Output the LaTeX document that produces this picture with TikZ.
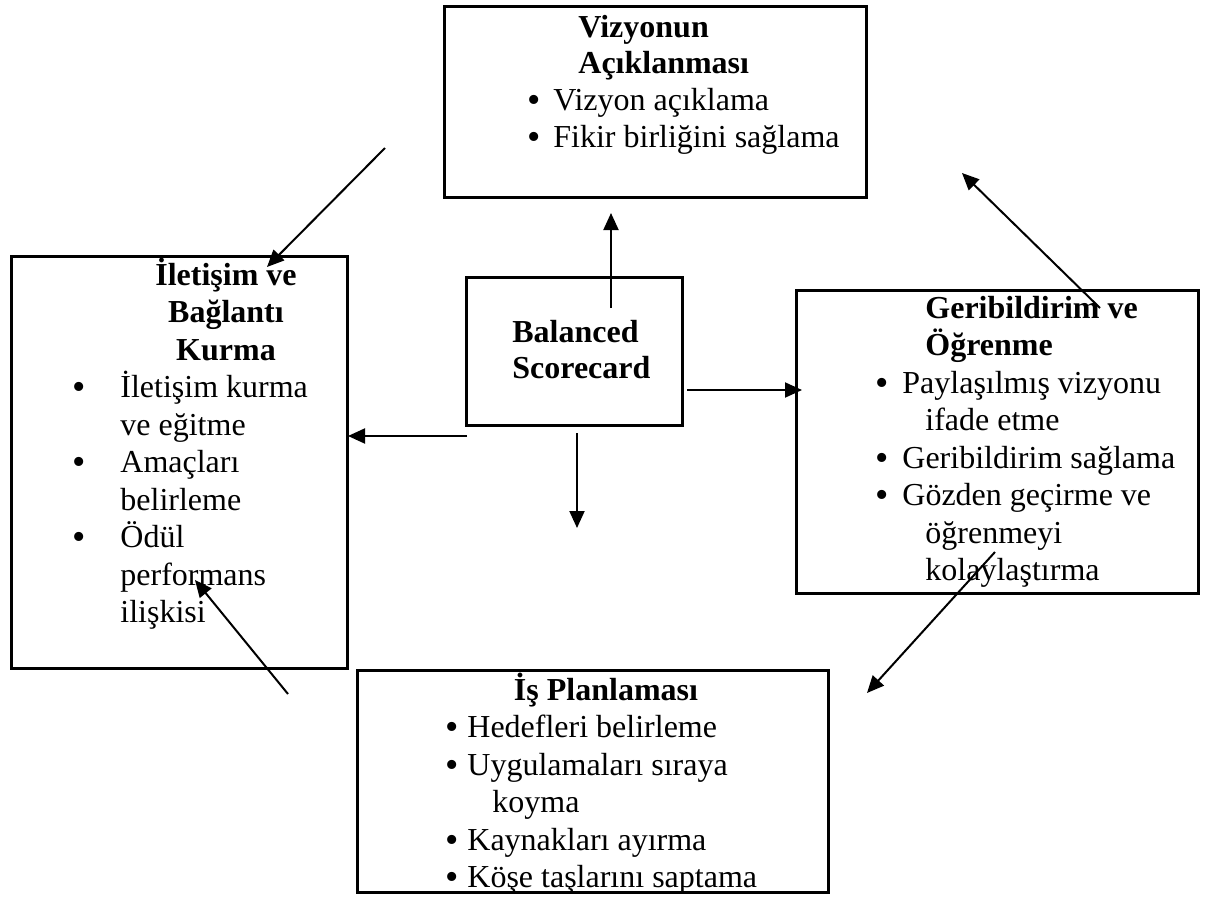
\documentclass[tikz,border=0pt]{standalone}
\usepackage{fontspec}
\setmainfont{Liberation Serif}
\usetikzlibrary{arrows.meta}
\begin{document}
\begin{tikzpicture}[x=0.5pt,y=-0.5pt,
  frame/.style={draw, line width=1.3pt, inner sep=0pt, anchor=north west},
  txt/.style={anchor=base west, inner sep=0pt, font=\fontsize{16}{18}\selectfont},
  bul/.style={txt, font=\fontsize{19}{18}\selectfont, yshift=-1pt, xshift=-0.6pt},
  ttl/.style={txt, font=\fontsize{16}{18}\selectfont\bfseries},
  ctl/.style={ttl, anchor=base},
  link/.style={line width=1pt, -{Triangle[length=8.5pt,width=7.5pt]}}]
\useasboundingbox (0,0) rectangle (1223,905);

% frames
\node[frame, minimum width=211pt, minimum height=95.5pt] (viz) at (443,5) {};
\node[frame, minimum width=168pt, minimum height=206pt] (ilet) at (10,255) {};
\node[frame, minimum width=108pt, minimum height=74pt] (bsc) at (465,276) {};
\node[frame, minimum width=201pt, minimum height=151.5pt] (geri) at (795,289) {};
\node[frame, minimum width=235.5pt, minimum height=111pt] (plan) at (356,669) {};

% Vizyonun Açıklanması
\node[ttl] (vizT1) at (578,37) {Vizyonun};
\node[ttl] (vizT2) at (578,73) {Açıklanması};
\node[bul] (vizD1) at (528,110) {•};
\node[txt] (vizL1) at (553,110) {Vizyon açıklama};
\node[bul] (vizD2) at (528,147) {•};
\node[txt] (vizL2) at (553,147) {Fikir birliğini sağlama};

% İletişim ve Bağlantı Kurma
\node[ctl] (iletT1) at (226,285) {İletişim ve};
\node[ctl] (iletT2) at (226,322) {Bağlantı};
\node[ctl] (iletT3) at (226,360) {Kurma};
\node[bul] (iletD1) at (73,397) {•};
\node[txt] (iletL1) at (120,397) {İletişim kurma};
\node[txt] (iletL2) at (120,435) {ve eğitme};
\node[bul] (iletD2) at (73,472) {•};
\node[txt] (iletL3) at (120,472) {Amaçları};
\node[txt] (iletL4) at (120,510) {belirleme};
\node[bul] (iletD3) at (73,547) {•};
\node[txt] (iletL5) at (120,547) {Ödül};
\node[txt] (iletL6) at (120,585) {performans};
\node[txt] (iletL7) at (120,622) {ilişkisi};

% Balanced Scorecard
\node[ttl] (bscT1) at (512,342) {Balanced};
\node[ttl] (bscT2) at (512,378) {Scorecard};

% Geribildirim ve Öğrenme
\node[ttl] (geriT1) at (925,318) {Geribildirim ve};
\node[ttl] (geriT2) at (925,355) {Öğrenme};
\node[bul] (geriD1) at (876,393) {•};
\node[txt] (geriL1) at (902,393) {Paylaşılmış vizyonu};
\node[txt] (geriL2) at (925,430) {ifade etme};
\node[bul] (geriD2) at (876,468) {•};
\node[txt] (geriL3) at (902,468) {Geribildirim sağlama};
\node[bul] (geriD3) at (876,505) {•};
\node[txt] (geriL4) at (902,505) {Gözden geçirme ve};
\node[txt] (geriL5) at (925,543) {öğrenmeyi};
\node[txt] (geriL6) at (925,580) {kolaylaştırma};

% İş Planlaması
\node[ctl] (planT1) at (606,700) {İş Planlaması};
\node[bul] (planD1) at (446,737) {•};
\node[txt] (planL1) at (467,737) {Hedefleri belirleme};
\node[bul] (planD2) at (446,775) {•};
\node[txt] (planL2) at (467,775) {Uygulamaları sıraya};
\node[txt] (planL3) at (492,812) {koyma};
\node[bul] (planD3) at (446,850) {•};
\node[txt] (planL4) at (467,850) {Kaynakları ayırma};
\node[bul] (planD4) at (446,887) {•};
\node[txt] (planL5) at (467,887) {Köşe taşlarını saptama};

% connector end points
\coordinate (a1s) at (385,148); \coordinate (a1e) at (267,267);
\coordinate (a2s) at (611,308); \coordinate (a2e) at (611,213);
\coordinate (a3s) at (467,436); \coordinate (a3e) at (348,436);
\coordinate (a4s) at (687,390); \coordinate (a4e) at (802,390);
\coordinate (a5s) at (577,433); \coordinate (a5e) at (577,528);
\coordinate (a6s) at (1100,308); \coordinate (a6e) at (962,173);
\coordinate (a7s) at (995,552); \coordinate (a7e) at (867,693);
\coordinate (a8s) at (288,694); \coordinate (a8e) at (195,580);

\foreach \k in {1,...,8} \draw[link] (a\k s) -- (a\k e);
\end{tikzpicture}
\end{document}
